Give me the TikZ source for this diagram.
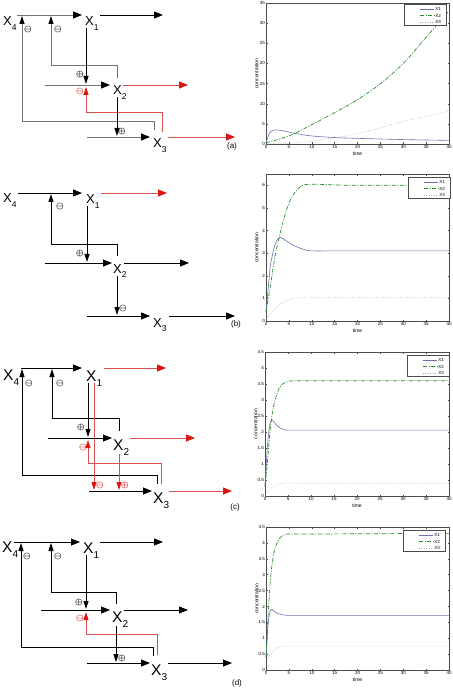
\documentclass[tikz,border=0pt]{standalone}
\usepackage{fontspec}
\setmainfont{Liberation Sans}
\usetikzlibrary{arrows.meta}

\definecolor{hotred}{RGB}{220,20,20}
\definecolor{redline}{RGB}{215,80,80}
\definecolor{xonecol}{RGB}{112,112,178}
\definecolor{xtwocol}{RGB}{40,140,40}
\definecolor{xthreecol}{RGB}{165,165,165}

\newcommand\gn[1]{X\raisebox{-0.38em}{\fontsize{\subsz}{\subsz}\selectfont#1}}

\tikzset{
  gene/.style={anchor=base west,inner sep=0pt,font=\fontsize{13}{13}\selectfont\def\subsz{8.5}},
  genebig/.style={gene,font=\fontsize{15.5}{15.5}\selectfont\def\subsz{10}},
  sign/.style={inner sep=0pt,font=\boldmath\fontsize{8.5}{8.5}\selectfont},
  redsign/.style={sign,text=hotred},
  panel/.style={inner sep=0pt,font=\fontsize{8}{8}\selectfont},
  wire/.style={line width=0.8pt},
  flow/.style={wire,-{Triangle[length=9pt,width=7pt]}},
  flowgray/.style={wire,draw=black!55,-{Triangle[length=9pt,width=7pt,color=black]}},
  flowred/.style={wire,draw=redline,-{Triangle[length=9pt,width=7pt,color=hotred]}},
  reg/.style={wire,-{Triangle[length=8pt,width=5pt]}},
  reggray/.style={wire,draw=black!55,-{Triangle[length=8pt,width=5pt,color=black]}},
  regred/.style={wire,draw=redline,-{Triangle[length=8pt,width=5pt,color=hotred]}},
  frame/.style={draw=black!70,line width=0.4pt},
  ticklab/.style={inner sep=1pt,font=\fontsize{4.5}{5}\selectfont},
  axlab/.style={inner sep=0pt,font=\fontsize{5}{5}\selectfont},
  legtext/.style={inner sep=1pt,font=\fontsize{4.5}{5}\selectfont},
  xoneline/.style={draw=xonecol,line width=0.6pt},
  xtwoline/.style={draw=xtwocol,line width=0.7pt,dash pattern=on 4pt off 1.5pt on 1pt off 1.5pt},
  xthreeline/.style={draw=xthreecol,line width=0.6pt,dash pattern=on 0.6pt off 1.8pt},
}

% box, ticks and axis names of one time course (data units)
\newcommand\simaxes[2]{%
  \draw[frame] (0,0) rectangle (40,#1);
  \foreach \t in {0,5,...,40}{
    \draw[frame] (\t,0) -- ++(0pt,1.5pt) (\t,#1) -- ++(0pt,-1.5pt);
    \node[ticklab,below] at (\t,0) {\t};}
  \foreach \v in {#2}{
    \draw[frame] (0,\v) -- ++(1.5pt,0pt) (40,\v) -- ++(-1.5pt,0pt);
    \node[ticklab,left] at (0,\v) {\v};}
  \node[axlab,below=8pt] at (20,0) {time};
  \node[axlab,rotate=90,anchor=south] at (-1.6,#1/2) {concentration};
}

% legend, top left corner in picture units
\newcommand\simlegend[2]{%
  \draw[frame,fill=white] (#1,#2) rectangle ++(42,21);
  \draw[xoneline] (#1+16,#2+5) -- ++(14,0) node[legtext,right]{X1};
  \draw[xtwoline] (#1+16,#2+11.5) -- ++(14,0) node[legtext,right]{X2};
  \draw[xthreeline] (#1+16,#2+18) -- ++(14,0) node[legtext,right]{X3};
}

\begin{document}
\begin{tikzpicture}[x=1pt,y=-1pt]
  \useasboundingbox (0,0) rectangle (452,692);

  %(a) network
  \node[gene] (x4a) at (3,26) {\gn{4}};
  \node[gene] (x1a) at (85,26) {\gn{1}};
  \node[gene] (x2a) at (113,95) {\gn{2}};
  \node[gene] (x3a) at (153,148) {\gn{3}};
  \draw[flowgray] (17,15) -- (82,15);
  \draw[flow] (100,15) -- (163,15);
  \draw[reggray] (154,130) |- (22,121) -- (22,16);
  \draw[reggray] (117,78) |- (51,65) -- (51,16);
  \draw[reg] (86,28) -- (86,84);
  \draw[flowgray] (45,85) -- (110,85);
  \draw[flowred] (123,85) -- (188,85);
  \draw[regred] (162,132) |- (86,112) -- (86,87);
  \draw[reg] (117,97) -- (117,136);
  \draw[flowgray] (87,137) -- (150,137);
  \draw[flowred] (168,137) -- (235,137);
  \node[sign] (sa1) at (28,30) {$\ominus$};
  \node[sign] (sa2) at (58,30) {$\ominus$};
  \node[sign] (sa3) at (80,75) {$\oplus$};
  \node[redsign] (sa4) at (80,92) {$\ominus$};
  \node[sign] (sa5) at (122,132) {$\oplus$};
  \node[panel] (pa) at (232,146) {(a)};

  %(b) network
  \node[gene] (x4b) at (3,203) {\gn{4}};
  \node[gene] (x1b) at (86,204) {\gn{1}};
  \node[gene] (x2b) at (113,273) {\gn{2}};
  \node[gene] (x3b) at (153,327) {\gn{3}};
  \draw[flow] (18,193) -- (82,193);
  \draw[flowred] (101,193) -- (167,193);
  \draw[reg] (117,256) |- (51,244) -- (51,194);
  \draw[reg] (87,206) -- (87,262);
  \draw[flow] (45,263) -- (112,263);
  \draw[flow] (124,263) -- (189,263);
  \draw[reg] (117,276) -- (117,315);
  \draw[flow] (87,316) -- (150,316);
  \draw[flow] (169,316) -- (235,316);
  \node[sign] (sb1) at (60,207) {$\ominus$};
  \node[sign] (sb2) at (80,253) {$\oplus$};
  \node[sign] (sb3) at (123,308) {$\ominus$};
  \node[panel] (pb) at (236,324) {(b)};

  %(c) network
  \node[genebig] (x4c) at (3,380) {\gn{4}};
  \node[genebig] (x1c) at (86,381) {\gn{1}};
  \node[genebig] (x2c) at (113,450) {\gn{2}};
  \node[genebig] (x3c) at (153,503) {\gn{3}};
  \draw[flow] (21,368) -- (82,368);
  \draw[flowred] (104,368) -- (166,368);
  \draw[reg] (157,484) |- (22,475) -- (22,369);
  \draw[reg] (119,431) |- (52,418) -- (52,369);
  \draw[reg] (88,383) -- (88,437);
  \draw[regred] (94,383) -- (94,490);
  \draw[flow] (48,438) -- (112,438);
  \draw[flowred] (130,438) -- (195,438);
  \draw[regred] (161,484) |- (88,463) -- (88,440);
  \draw[regred] (119,454) -- (119,490);
  \draw[flow] (89,491) -- (152,491);
  \draw[flowred] (169,491) -- (232,491);
  \node[sign] (sc1) at (29,383) {$\ominus$};
  \node[sign] (sc2) at (60,383) {$\ominus$};
  \node[sign] (sc3) at (81,427) {$\oplus$};
  \node[redsign] (sc4) at (83,447) {$\ominus$};
  \node[redsign] (sc5) at (100,485) {$\ominus$};
  \node[redsign] (sc6) at (125,485) {$\oplus$};
  \node[panel] (pc) at (235,507) {(c)};

  %(d) network
  \node[genebig] (x4d) at (2,552) {\gn{4}};
  \node[genebig] (x1d) at (83,553) {\gn{1}};
  \node[genebig] (x2d) at (112,622) {\gn{2}};
  \node[genebig] (x3d) at (151,675) {\gn{3}};
  \draw[flow] (14,542) -- (80,542);
  \draw[flow] (100,542) -- (163,542);
  \draw[reg] (153,656) |- (21,647) -- (21,543);
  \draw[reg] (116,604) |- (51,592) -- (51,543);
  \draw[reg] (86,555) -- (86,609);
  \draw[flow] (41,610) -- (110,610);
  \draw[flow] (124,610) -- (188,610);
  \draw[regred] (157,655) |- (86,634) -- (86,612);
  \draw[reg] (116,626) -- (116,662);
  \draw[flow] (87,663) -- (150,663);
  \draw[flow] (168,663) -- (232,663);
  \node[sign] (sd1) at (27,556) {$\ominus$};
  \node[sign] (sd2) at (58,556) {$\ominus$};
  \node[sign] (sd3) at (79,602) {$\oplus$};
  \node[redsign] (sd4) at (80,618) {$\ominus$};
  \node[sign] (sd5) at (122,658) {$\oplus$};
  \node[panel] (pd) at (237,683) {(d)};

  %(a) time course
  \begin{scope}[shift={(266,144)},x=4.575pt,y=4.0286pt]
    \simaxes{35}{0,5,10,15,20,25,30,35}
    \draw[xoneline] plot[smooth,tension=0.6] coordinates {(0,0.3) (0.5,2) (1,3) (2,3.5) (4,3.2) (7,2.5) (10,2) (15,1.6) (20,1.4) (30,1.1) (40,0.9)};
    \draw[xtwoline] plot[smooth,tension=0.6] coordinates {(0,0.3) (5,2) (10,4.8) (15,7.8) (20,11) (25,15) (30,20) (35,26.5) (40,33)};
    \draw[xthreeline] plot[smooth,tension=0.6] coordinates {(0,0) (5,0.2) (10,0.7) (15,1.5) (20,2.6) (25,4) (30,5.6) (35,6.9) (40,8.1)};
  \end{scope}
  \simlegend{404}{4}

  %(b) time course
  \begin{scope}[shift={(266,321)},x=4.575pt,y=22.615pt]
    \simaxes{6.5}{0,1,2,3,4,5,6}
    \draw[xoneline] plot[smooth,tension=0.5] coordinates {(0,0.4) (0.5,1.5) (1,2.5) (2,3.4) (3,3.7) (4,3.6) (6,3.35) (8,3.18) (10,3.1) (15,3.1) (40,3.1)};
    \draw[xtwoline] plot[smooth,tension=0.5] coordinates {(0,0.4) (1,1.6) (2,2.9) (3,3.8) (4,4.6) (5,5.2) (6,5.6) (7,5.85) (8,6) (10,6.05) (15,6.02) (20,6) (40,6)};
    \draw[xthreeline] plot[smooth,tension=0.5] coordinates {(0,0.1) (1,0.3) (2,0.55) (4,0.85) (6,1) (8,1.05) (15,1.05) (40,1.05)};
  \end{scope}
  \simlegend{408}{177}

  %(c) time course
  \begin{scope}[shift={(265,496)},x=4.6pt,y=32pt]
    \simaxes{4.5}{0,0.5,1,1.5,2,2.5,3,3.5,4,4.5}
    \draw[xoneline] plot[smooth,tension=0.5] coordinates {(0,0.3) (0.5,1.5) (1,2.2) (1.5,2.38) (2,2.3) (3,2.15) (4,2.08) (5,2.06) (10,2.06) (40,2.06)};
    \draw[xtwoline] plot[smooth,tension=0.5] coordinates {(0,0.3) (0.5,1) (1,1.9) (1.5,2.5) (2,2.9) (3,3.35) (4,3.52) (5,3.58) (6,3.6) (10,3.6) (40,3.6)};
    \draw[xthreeline] plot[smooth,tension=0.5] coordinates {(0,0.05) (1,0.2) (2,0.32) (3,0.38) (4,0.4) (8,0.4) (40,0.4)};
  \end{scope}
  \simlegend{407}{355}

  %(d) time course
  \begin{scope}[shift={(266,670)},x=4.575pt,y=31.778pt]
    \simaxes{4.5}{0,0.5,1,1.5,2,2.5,3,3.5,4,4.5}
    \draw[xoneline] plot[smooth,tension=0.5] coordinates {(0,0.4) (0.5,1.5) (1,1.9) (1.5,1.88) (2,1.82) (3,1.76) (4,1.73) (5,1.72) (10,1.72) (40,1.72)};
    \draw[xtwoline] plot[smooth,tension=0.5] coordinates {(0,0.4) (0.5,1.8) (1,2.9) (1.5,3.5) (2,3.85) (3,4.15) (4,4.25) (5,4.28) (10,4.28) (40,4.3)};
    \draw[xthreeline] plot[smooth,tension=0.5] coordinates {(0,0.25) (1,0.5) (2,0.65) (3,0.72) (4,0.75) (8,0.75) (40,0.75)};
  \end{scope}
  \simlegend{403}{530}
\end{tikzpicture}
\end{document}
